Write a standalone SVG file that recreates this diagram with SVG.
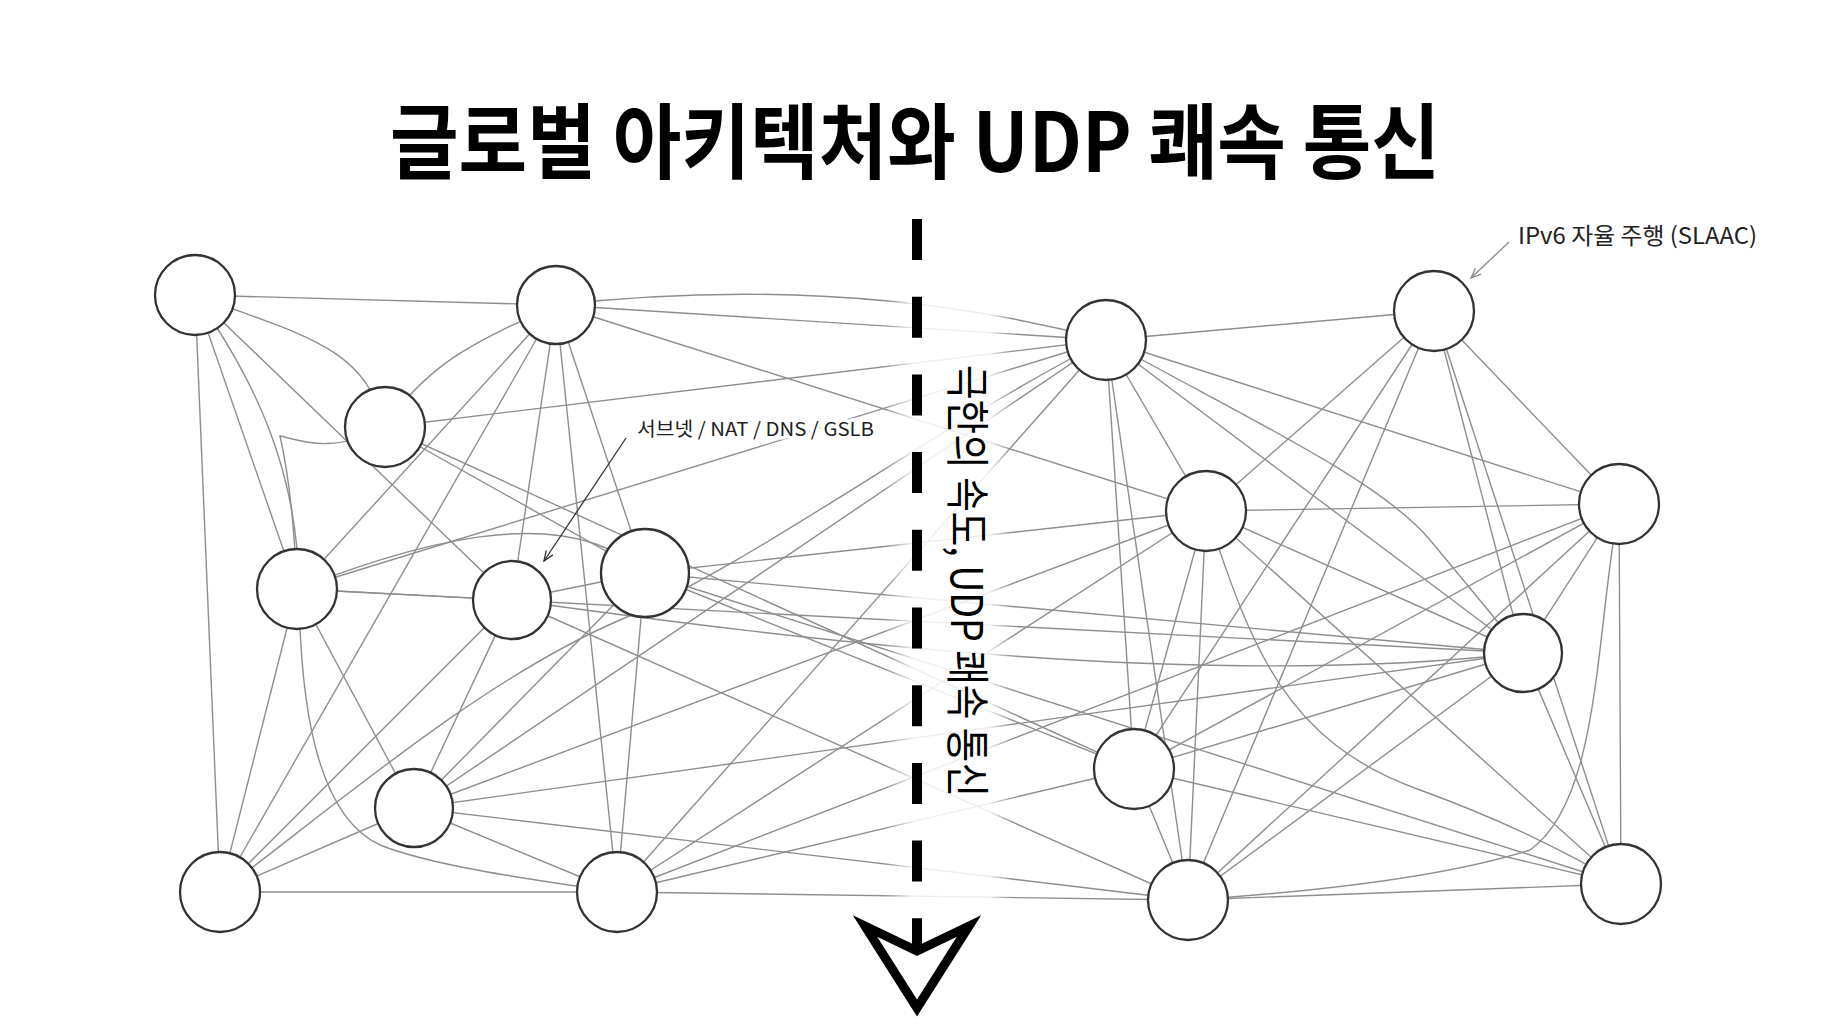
<svg xmlns="http://www.w3.org/2000/svg" width="1833" height="1024" viewBox="0 0 1833 1024">
<style>
.e{fill:none;stroke:#8e8e8e;stroke-width:1.4}
.n{fill:#fff;stroke:#333;stroke-width:2.3}
.lbl{font-family:"Noto Sans CJK KR","Noto Sans",sans-serif;fill:#222;stroke:#fff;stroke-width:7;paint-order:stroke;stroke-linejoin:round}
</style>
<defs>
<linearGradient id="halo" gradientUnits="userSpaceOnUse" x1="885" y1="0" x2="1012" y2="0">
<stop offset="0" stop-color="#fff" stop-opacity="0"/>
<stop offset="0.22" stop-color="#fff" stop-opacity="0.85"/>
<stop offset="0.82" stop-color="#fff" stop-opacity="0.85"/>
<stop offset="1" stop-color="#fff" stop-opacity="0"/>
</linearGradient>
<marker id="arrDark" viewBox="0 0 12 10" refX="11" refY="5" markerWidth="12" markerHeight="10" markerUnits="userSpaceOnUse" orient="auto">
<path d="M1,1 L11,5 L1,9" fill="none" stroke="#333" stroke-width="1.3"/>
</marker>
<marker id="arrGray" viewBox="0 0 12 10" refX="11" refY="5" markerWidth="12" markerHeight="10" markerUnits="userSpaceOnUse" orient="auto">
<path d="M1,1 L11,5 L1,9" fill="none" stroke="#888" stroke-width="1.3"/>
</marker>
</defs>
<rect width="1833" height="1024" fill="#fff"/>
<text x="390" y="172" font-family="'Noto Sans CJK KR','Noto Sans',sans-serif" font-weight="700" font-size="82" textLength="1050" lengthAdjust="spacingAndGlyphs" fill="#000">글로벌 아키텍처와 UDP 쾌속 통신</text>
<g id="connectors">
<line class="e" x1="195" y1="295" x2="556" y2="305"/>
<line class="e" x1="195" y1="295" x2="512" y2="600"/>
<line class="e" x1="195" y1="295" x2="297" y2="589"/>
<line class="e" x1="195" y1="295" x2="220" y2="892"/>
<line class="e" x1="556" y1="305" x2="297" y2="589"/>
<line class="e" x1="556" y1="305" x2="220" y2="892"/>
<line class="e" x1="556" y1="305" x2="512" y2="600"/>
<line class="e" x1="556" y1="305" x2="617" y2="892"/>
<line class="e" x1="556" y1="305" x2="645" y2="573"/>
<line class="e" x1="556" y1="305" x2="1206" y2="511"/>
<line class="e" x1="556" y1="305" x2="1106" y2="340"/>
<line class="e" x1="385" y1="427" x2="1106" y2="340"/>
<line class="e" x1="385" y1="427" x2="1134" y2="769"/>
<line class="e" x1="385" y1="427" x2="645" y2="573"/>
<line class="e" x1="297" y1="589" x2="512" y2="600"/>
<line class="e" x1="297" y1="589" x2="1523" y2="653"/>
<line class="e" x1="297" y1="589" x2="1106" y2="340"/>
<line class="e" x1="297" y1="589" x2="414" y2="808"/>
<line class="e" x1="297" y1="589" x2="220" y2="892"/>
<line class="e" x1="512" y1="600" x2="645" y2="573"/>
<line class="e" x1="512" y1="600" x2="414" y2="808"/>
<line class="e" x1="512" y1="600" x2="220" y2="892"/>
<line class="e" x1="512" y1="600" x2="1188" y2="900"/>
<line class="e" x1="645" y1="573" x2="1206" y2="511"/>
<line class="e" x1="645" y1="573" x2="1523" y2="653"/>
<line class="e" x1="645" y1="573" x2="1621" y2="884"/>
<line class="e" x1="645" y1="573" x2="1134" y2="769"/>
<line class="e" x1="645" y1="573" x2="414" y2="808"/>
<line class="e" x1="645" y1="573" x2="617" y2="892"/>
<line class="e" x1="414" y1="808" x2="220" y2="892"/>
<line class="e" x1="414" y1="808" x2="617" y2="892"/>
<line class="e" x1="414" y1="808" x2="1106" y2="340"/>
<line class="e" x1="414" y1="808" x2="1206" y2="511"/>
<line class="e" x1="414" y1="808" x2="1523" y2="653"/>
<line class="e" x1="414" y1="808" x2="1188" y2="900"/>
<line class="e" x1="220" y1="892" x2="617" y2="892"/>
<line class="e" x1="617" y1="892" x2="1106" y2="340"/>
<line class="e" x1="617" y1="892" x2="1206" y2="511"/>
<line class="e" x1="617" y1="892" x2="1134" y2="769"/>
<line class="e" x1="617" y1="892" x2="1188" y2="900"/>
<line class="e" x1="617" y1="892" x2="1619" y2="504"/>
<line class="e" x1="1106" y1="340" x2="1434" y2="311"/>
<line class="e" x1="1106" y1="340" x2="1619" y2="504"/>
<line class="e" x1="1106" y1="340" x2="1523" y2="653"/>
<line class="e" x1="1106" y1="340" x2="1206" y2="511"/>
<line class="e" x1="1106" y1="340" x2="1188" y2="900"/>
<line class="e" x1="1106" y1="340" x2="1134" y2="769"/>
<line class="e" x1="1434" y1="311" x2="1206" y2="511"/>
<line class="e" x1="1434" y1="311" x2="1619" y2="504"/>
<line class="e" x1="1434" y1="311" x2="1523" y2="653"/>
<line class="e" x1="1434" y1="311" x2="1621" y2="884"/>
<line class="e" x1="1434" y1="311" x2="1188" y2="900"/>
<line class="e" x1="1434" y1="311" x2="1134" y2="769"/>
<line class="e" x1="1206" y1="511" x2="1619" y2="504"/>
<line class="e" x1="1206" y1="511" x2="1523" y2="653"/>
<line class="e" x1="1206" y1="511" x2="1621" y2="884"/>
<line class="e" x1="1206" y1="511" x2="1188" y2="900"/>
<line class="e" x1="1206" y1="511" x2="1134" y2="769"/>
<line class="e" x1="1619" y1="504" x2="1523" y2="653"/>
<line class="e" x1="1619" y1="504" x2="1621" y2="884"/>
<line class="e" x1="1619" y1="504" x2="1188" y2="900"/>
<line class="e" x1="1619" y1="504" x2="1134" y2="769"/>
<line class="e" x1="1523" y1="653" x2="1621" y2="884"/>
<line class="e" x1="1523" y1="653" x2="1134" y2="769"/>
<line class="e" x1="1523" y1="653" x2="1188" y2="900"/>
<line class="e" x1="1134" y1="769" x2="1188" y2="900"/>
<line class="e" x1="1134" y1="769" x2="1621" y2="884"/>
<line class="e" x1="1188" y1="900" x2="1621" y2="884"/>
<path class="e" d="M195 295 C300 335 365 345 385 427"/>
<path class="e" d="M195 295 C255 380 298 470 299 589 C300 700 315 815 380 845 C430 865 520 878 617 892"/>
<path class="e" d="M385 427 C330 455 300 440 280 436 C290 480 295 540 297 589"/>
<path class="e" d="M556 305 C480 340 430 360 385 427"/>
<path class="e" d="M556 305 Q850 272 1106 340"/>
<path class="e" d="M220 892 C330 810 480 680 620 620 C760 560 930 430 1106 340"/>
<path class="e" d="M297 589 C400 550 560 495 645 573"/>
<path class="e" d="M512 600 C800 640 1200 690 1523 653"/>
<path class="e" d="M1106 340 C1250 420 1380 480 1430 540 Q1480 600 1523 653"/>
<path class="e" d="M1206 511 C1250 640 1280 740 1420 790 Q1530 830 1621 884"/>
<path class="e" d="M1619 504 C1595 640 1600 800 1530 850 Q1420 885 1188 900"/>
</g>
<rect x="885" y="215" width="127" height="745" fill="url(#halo)"/>
<g id="divider">
<line x1="917" y1="219" x2="917" y2="950" stroke="#000" stroke-width="10" stroke-dasharray="41 36.7"/>
<polygon points="865,926 917,951 969,926 917,1008" fill="#fff" stroke="#000" stroke-width="9" stroke-linejoin="miter"/>
<text transform="translate(951,365) rotate(90)" font-family="'Noto Sans CJK KR','Noto Sans',sans-serif" font-weight="400" font-size="44" textLength="432" lengthAdjust="spacingAndGlyphs" fill="#000">극한의 속도, UDP 쾌속 통신</text>
</g>
<g id="node-A"><circle class="n" cx="195" cy="295" r="40"/></g>
<g id="node-B"><circle class="n" cx="556" cy="305" r="39"/></g>
<g id="node-C"><circle class="n" cx="385" cy="427" r="40"/></g>
<g id="node-D"><circle class="n" cx="297" cy="589" r="40"/></g>
<g id="node-E"><circle class="n" cx="512" cy="600" r="39"/></g>
<g id="node-F"><circle class="n" cx="645" cy="573" r="44"/></g>
<g id="node-G"><circle class="n" cx="414" cy="808" r="39"/></g>
<g id="node-H"><circle class="n" cx="220" cy="892" r="40"/></g>
<g id="node-I"><circle class="n" cx="617" cy="892" r="40"/></g>
<g id="node-J"><circle class="n" cx="1106" cy="340" r="40"/></g>
<g id="node-K"><circle class="n" cx="1434" cy="311" r="40"/></g>
<g id="node-L"><circle class="n" cx="1206" cy="511" r="40"/></g>
<g id="node-M"><circle class="n" cx="1619" cy="504" r="40"/></g>
<g id="node-N"><circle class="n" cx="1523" cy="653" r="39"/></g>
<g id="node-O"><circle class="n" cx="1134" cy="769" r="40"/></g>
<g id="node-P"><circle class="n" cx="1188" cy="900" r="40"/></g>
<g id="node-Q"><circle class="n" cx="1621" cy="884" r="40"/></g>
<g id="annotations">
<text class="lbl" x="637" y="436" font-size="19" textLength="237" lengthAdjust="spacingAndGlyphs">서브넷 / NAT / DNS / GSLB</text>
<line x1="626" y1="438" x2="544" y2="561" stroke="#333" stroke-width="1.3" marker-end="url(#arrDark)"/>
<text class="lbl" x="1518" y="244" font-size="23" textLength="239" lengthAdjust="spacingAndGlyphs">IPv6 자율 주행 (SLAAC)</text>
<line x1="1509" y1="242" x2="1471" y2="278" stroke="#888" stroke-width="1.3" marker-end="url(#arrGray)"/>
</g>
</svg>
